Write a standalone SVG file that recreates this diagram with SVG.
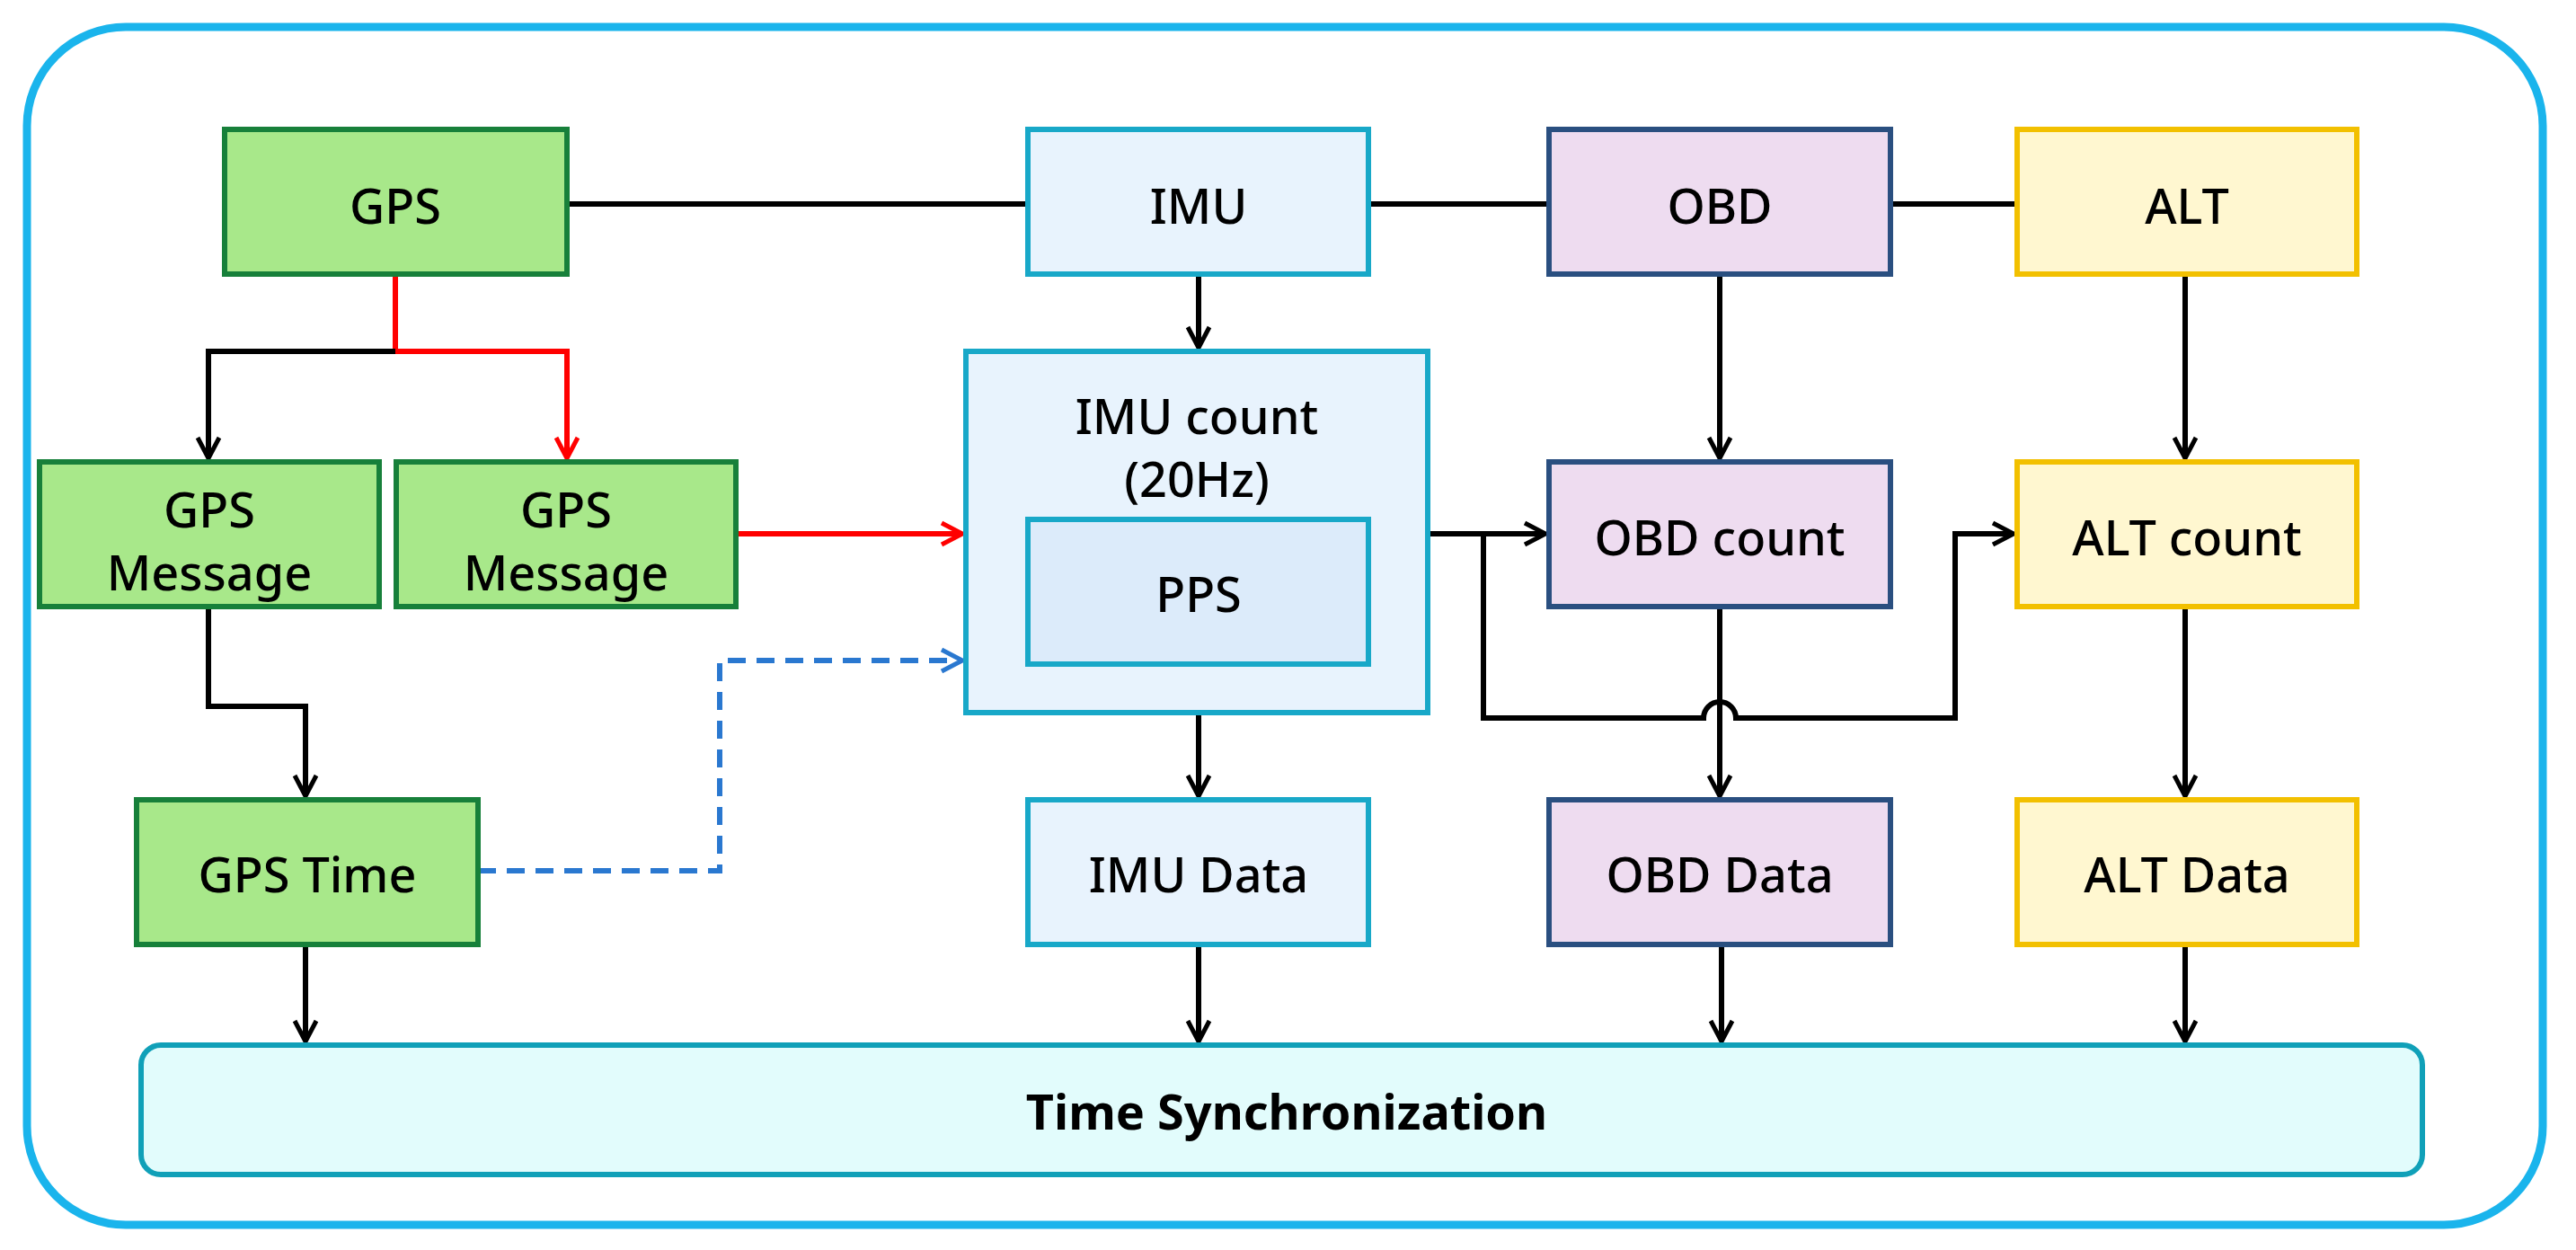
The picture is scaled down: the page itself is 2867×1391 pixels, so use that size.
<svg xmlns="http://www.w3.org/2000/svg" width="2867" height="1391" viewBox="0 0 2867 1391">
<defs>
<style>
text{font-family:"Noto Sans","Open Sans",sans-serif;font-size:54px;font-weight:500;fill:#000;text-anchor:middle;dominant-baseline:central}
text.t{font-weight:bold}
.g{fill:#a8e88a;stroke:#17803a;stroke-width:6}
.i{fill:#e8f3fd;stroke:#18a8c8;stroke-width:6}
.o{fill:#eedcf0;stroke:#2a4f80;stroke-width:6}
.a{fill:#fff7d0;stroke:#f2c000;stroke-width:6}
.k{fill:none;stroke:#000;stroke-width:6}
.r{fill:none;stroke:#f00;stroke-width:6}
.b{fill:none;stroke:#2a78d0;stroke-width:6;stroke-dasharray:20 12}
</style>
<marker id="ak" viewBox="0 0 30 30" refX="27" refY="15" markerWidth="30" markerHeight="30" markerUnits="userSpaceOnUse" orient="auto"><path d="M4 3L27 15L4 27" fill="none" stroke="#000" stroke-width="5"/></marker>
<marker id="ar" viewBox="0 0 30 30" refX="27" refY="15" markerWidth="30" markerHeight="30" markerUnits="userSpaceOnUse" orient="auto"><path d="M4 3L27 15L4 27" fill="none" stroke="#f00" stroke-width="5"/></marker>
<marker id="ab" viewBox="0 0 30 30" refX="27" refY="15" markerWidth="30" markerHeight="30" markerUnits="userSpaceOnUse" orient="auto"><path d="M4 3L27 15L4 27" fill="none" stroke="#2a78d0" stroke-width="5"/></marker>
</defs>
<rect x="30" y="30" width="2800" height="1333" rx="110" fill="#fff" stroke="#1ab4ec" stroke-width="9"/>
<g id="connectors">
<path class="k" d="M631 227H1144M1523 227H1724M2104 227H2245"/>
<path class="r" d="M440 305V391H631V510" marker-end="url(#ar)"/>
<path class="k" d="M440 391H232V510" marker-end="url(#ak)"/>
<path class="r" d="M819 594H1071" marker-end="url(#ar)"/>
<path class="k" d="M232 675V786H340V886" marker-end="url(#ak)"/>
<path class="b" d="M532 969H801V735H1071" marker-end="url(#ab)"/>
<path class="k" d="M1334 305V387" marker-end="url(#ak)"/>
<path class="k" d="M1334 793V886" marker-end="url(#ak)"/>
<path class="k" d="M1334 1051V1159" marker-end="url(#ak)"/>
<path class="k" d="M340 1051V1159" marker-end="url(#ak)"/>
<path class="k" d="M1589 594H1720" marker-end="url(#ak)"/>
<path class="k" d="M1651 594V799H1896A18 18 0 0 1 1932 799H2176V594H2241" marker-end="url(#ak)"/>
<path class="k" d="M1914 305V510" marker-end="url(#ak)"/>
<path class="k" d="M1914 675V886" marker-end="url(#ak)"/>
<path class="k" d="M1916 1051V1159" marker-end="url(#ak)"/>
<path class="k" d="M2432 305V510" marker-end="url(#ak)"/>
<path class="k" d="M2432 675V886" marker-end="url(#ak)"/>
<path class="k" d="M2432 1051V1159" marker-end="url(#ak)"/>
</g>
<g id="gps"><rect class="g" x="250" y="144" width="381" height="161"/><text x="440" y="228">GPS</text></g>
<g id="imu"><rect class="i" x="1144" y="144" width="379" height="161"/><text x="1334" y="228">IMU</text></g>
<g id="obd"><rect class="o" x="1724" y="144" width="380" height="161"/><text x="1914" y="228">OBD</text></g>
<g id="alt"><rect class="a" x="2245" y="144" width="378" height="161"/><text x="2434" y="228">ALT</text></g>
<g id="gpsmsg1"><rect class="g" x="44" y="514" width="378" height="161"/><text x="233" y="566" font-size="48">GPS</text><text x="233" y="636" font-size="48">Message</text></g>
<g id="gpsmsg2"><rect class="g" x="441" y="514" width="378" height="161"/><text x="630" y="566" font-size="48">GPS</text><text x="630" y="636" font-size="48">Message</text></g>
<g id="imucount"><rect class="i" x="1075" y="391" width="514" height="402"/><text x="1332" y="462">IMU count</text><text x="1332" y="532">(20Hz)</text></g>
<g id="pps"><rect class="i" x="1144" y="578" width="379" height="161" style="fill:#dcebfa"/><text x="1334" y="660">PPS</text></g>
<g id="obdcount"><rect class="o" x="1724" y="514" width="380" height="161"/><text x="1914" y="597">OBD count</text></g>
<g id="altcount"><rect class="a" x="2245" y="514" width="378" height="161"/><text x="2434" y="597">ALT count</text></g>
<g id="gpstime"><rect class="g" x="152" y="890" width="380" height="161"/><text x="342" y="972">GPS Time</text></g>
<g id="imudata"><rect class="i" x="1144" y="890" width="379" height="161"/><text x="1334" y="972">IMU Data</text></g>
<g id="obddata"><rect class="o" x="1724" y="890" width="380" height="161"/><text x="1914" y="972">OBD Data</text></g>
<g id="altdata"><rect class="a" x="2245" y="890" width="378" height="161"/><text x="2434" y="972">ALT Data</text></g>
<g id="timesync"><rect x="157" y="1163" width="2539" height="144" rx="22" fill="#e2fcfc" stroke="#10a0b8" stroke-width="6"/><text class="t" x="1432" y="1236">Time Synchronization</text></g>
</svg>
